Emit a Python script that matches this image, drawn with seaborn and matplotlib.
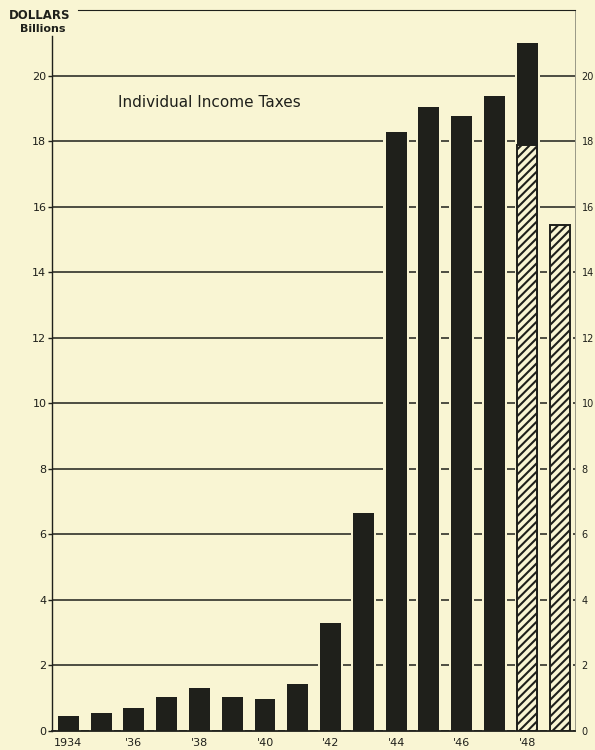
import numpy as np
import pandas as pd
import matplotlib
matplotlib.use("Agg")
import matplotlib.pyplot as plt
import seaborn as sns

# individual income tax receipts, billions of dollars
years = [str(y) for y in range(1934, 1950)]
solid_years = years[:15]
solid_values = [0.46, 0.54, 0.69, 1.05, 1.30, 1.05, 0.99, 1.45, 3.29, 6.66,
                18.27, 19.05, 18.75, 19.39, 20.98]
hatched_years = ["1948", "1949"]
hatched_values = [17.87, 15.43]
tick_years = ["1934", "1936", "1938", "1940", "1942", "1944", "1946", "1948"]
tick_labels = ["1934", "'36", "'38", "'40", "'42", "'44", "'46", "'48"]

bg = "#f9f5d3"
ink = "#1f201b"

sns.set_style("white")
plt.rcParams["font.family"] = ["DejaVu Sans"]
plt.rcParams["hatch.linewidth"] = 1.5

solid = pd.DataFrame({"year": solid_years, "value": solid_values})
hatched = pd.DataFrame({"year": hatched_years, "value": hatched_values})
# masks: the grid lines break off a little before each bar
mask = pd.DataFrame({"year": years, "value": solid_values + [hatched_values[1]]})

fig = plt.figure(figsize=(5.95, 7.5), dpi=100, facecolor=bg)
ax = fig.add_axes([0.0874, 0.0253, 0.879, 0.9614], facecolor=bg)

sns.barplot(data=mask, x="year", y="value", order=years, color=bg,
            width=0.77, errorbar=None, saturation=1, linewidth=0,
            zorder=1.5, ax=ax)
sns.barplot(data=solid, x="year", y="value", order=years, color=ink,
            width=0.64, errorbar=None, saturation=1, linewidth=0,
            zorder=2, ax=ax)
sns.barplot(data=hatched, x="year", y="value", order=years, color=bg,
            edgecolor=ink, hatch="////", width=0.6, errorbar=None,
            saturation=1, linewidth=1.4, zorder=2.5, ax=ax)

ax.set_xlim(-0.5, 15.46)
ax.set_ylim(0, 22)
ax.set_xlabel("")
ax.set_ylabel("")

ax.set_yticks(range(0, 21, 2))
ax.set_yticklabels([str(v) for v in range(0, 21, 2)], fontsize=8, color=ink)
ax.set_xticks([years.index(y) for y in tick_years])
ax.set_xticklabels(tick_labels, fontsize=8, color=ink)
ax.tick_params(axis="x", length=0, pad=5)
ax.tick_params(axis="y", which="major", left=True, direction="out", length=3,
               width=1, color=ink, pad=1, labelright=True, right=False)
for t in ax.yaxis.get_major_ticks():
    t.label2.set_fontsize(7)
    t.label2.set_x(1.002)

ax.set_axisbelow(True)
ax.grid(axis="y", color=ink, linewidth=1.1)
ax.grid(axis="x", visible=False)

for side in ["left", "top", "bottom", "right"]:
    ax.spines[side].set_visible(True)
    ax.spines[side].set_color(ink)
ax.spines["left"].set_linewidth(1.0)
ax.spines["left"].set_bounds(0, 21.2)
ax.spines["bottom"].set_linewidth(1.3)
ax.spines["top"].set_linewidth(0.8)
ax.spines["top"].set_bounds(0.3, 15.46)
ax.spines["right"].set_linewidth(0.6)
ax.spines["right"].set_color("#8a8a7a")

ax.text(4.29, 19.18, "Individual Income Taxes", fontsize=11, color=ink,
        ha="center", va="center")
fig.text(0.067, 0.979, "DOLLARS", fontsize=8.5, fontweight="bold",
         color=ink, ha="center", va="center")
fig.text(0.072, 0.961, "Billions", fontsize=8, fontweight="bold",
         color=ink, ha="center", va="center")

fig.savefig("out.png", dpi=100, facecolor=bg)
